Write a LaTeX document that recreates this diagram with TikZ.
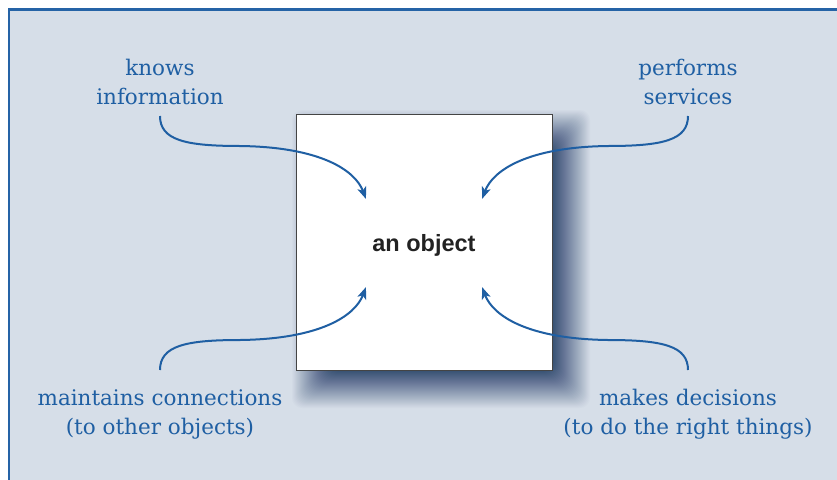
\documentclass[tikz,border=0pt]{standalone}
\usepackage{fontspec}
\setmainfont{DejaVu Serif}
\newfontfamily\boxfont{Liberation Sans}
\usetikzlibrary{arrows.meta}
\definecolor{bgc}{HTML}{D6DEE8}
\definecolor{framec}{HTML}{2563A6}
\definecolor{textc}{HTML}{1F5FA3}
\definecolor{shadowc}{HTML}{2E496D}
\definecolor{boxline}{HTML}{444444}
\definecolor{boxtext}{HTML}{222222}
\tikzset{
  lab/.style={text=textc, align=center, inner sep=0pt, font=\fontsize{21.5}{29}\selectfont},
  arr/.style={draw=textc, line width=2pt, -{Stealth[length=12pt,width=9pt,inset=3pt]}},
  objbox/.style={draw=boxline, line width=1pt, fill=white, minimum width=256pt, minimum height=256pt, inner sep=0pt}
}
\begin{document}
\begin{tikzpicture}[x=1pt,y=1pt]
\useasboundingbox (0,0) rectangle (837,-479);
\clip (0,0) rectangle (837,-479);
\fill[white] (0,0) rectangle (837,-479);
\draw[framec, line width=2.4pt, fill=bgc] (9.2,-9.6) rectangle (870,-520);
% blurred shadow: stacked layers giving a roughly linear ramp
\foreach \i in {0,...,39}{
  \pgfmathsetmacro{\e}{22-\i}
  \pgfmathsetmacro{\a}{(0.97/40)/(1-0.97*\i/40)}
  \fill[shadowc, opacity=\a, rounded corners=10pt] (314-\e,-132+\e) rectangle (568+\e,-386-\e);
}
\node[objbox] (obj) at (424,-242) {};
\node[font=\boxfont\bfseries\fontsize{23.5}{28}\selectfont, text=boxtext, inner sep=0pt] (objtext) at (424,-245) {an object};
% labels
\node[lab, anchor=south] (k) at (160,-105.5) {knows\\information};
\node[lab, anchor=south] (p) at (688,-105.5) {performs\\services};
\node[lab, anchor=north] (m) at (160,-389) {maintains connections\\(to other objects)};
\node[lab, anchor=north] (d) at (688,-389) {makes decisions\\(to do the right things)};
% connector points
\coordinate (c1) at (240,-146);
\coordinate (e1) at (366,-199);
\coordinate (c2) at (608,-146);
\coordinate (e2) at (482,-199);
\coordinate (c3) at (240,-340);
\coordinate (e3) at (366,-287);
\coordinate (c4) at (608,-340);
\coordinate (e4) at (482,-287);
\draw[arr] ([yshift=-10.5pt]k.south) .. controls +(0,-24) and +(-55,0) .. (c1) .. controls +(80,-1) and +(-11,29) .. (e1);
\draw[arr] ([yshift=-10.5pt]p.south) .. controls +(0,-24) and +(55,0) .. (c2) .. controls +(-80,-1) and +(11,29) .. (e2);
\draw[arr] ([yshift=19pt]m.north) .. controls +(0,24) and +(-55,0) .. (c3) .. controls +(80,1) and +(-11,-29) .. (e3);
\draw[arr] ([yshift=19pt]d.north) .. controls +(0,24) and +(55,0) .. (c4) .. controls +(-80,1) and +(11,-29) .. (e4);
\end{tikzpicture}
\end{document}
